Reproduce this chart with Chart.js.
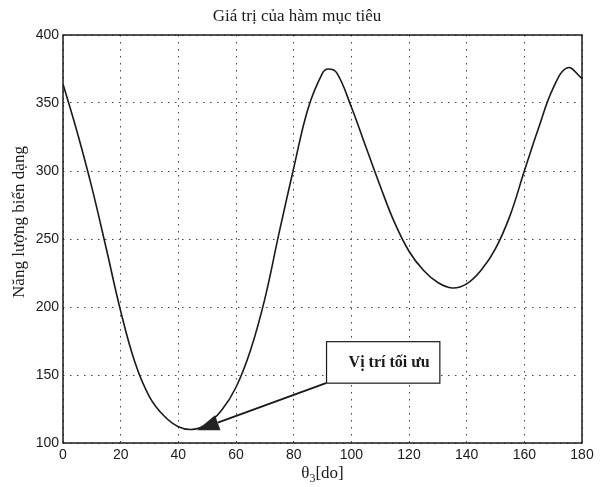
<!DOCTYPE html>
<html>
<head>
<meta charset="utf-8">
<script src="https://cdn.jsdelivr.net/npm/chart.js@4.4.1/dist/chart.umd.min.js"></script>
<style>
  html, body { margin: 0; padding: 0; background: #ffffff; }
  #wrap { width: 604px; height: 487px; position: relative; }
</style>
</head>
<body>
<div id="wrap"><canvas id="c" width="604" height="487"></canvas></div>
<script>
// ---- data ----
const thetas = [0,5,10,15,20,25,30,35,40,45,50,55,60,65,70,75,80,85,90,92,95,100,105,110,115,120,125,130,135,140,145,150,155,160,165,170,175,180];
const energy = [364,328,288,243,197,159,134,120,112,110,114,124,141,168,206,255,302,346,372,375,372,347,318,289,262,241,227,218,214,217,227,243,267,300,332,361,376,368];
const xTicks = [0,20,40,60,80,100,120,140,160,180];
const yTicks = [100,150,200,250,300,350,400];

const titleText = 'Giá trị của hàm mục tiêu';
const yLabelText = 'Năng lượng biến dạng';
const xLabelMain = 'θ';
const xLabelSub = '3';
const xLabelTail = '[do]';
const noteText = 'Vị trí tối ưu';
// annotation anchor points in data units (theta, energy)
const noteBoxTopLeft = [91.4, 174.5];
const noteBoxBottomRight = [130.7, 144];
const arrowTail = [91.2, 144];
const arrowTip = [46.5, 109.4];

const INK = '#1a1a1a';

const textPlugin = {
  id: 'textPlugin',
  afterDraw(chart) {
    const ctx = chart.ctx;
    const a = chart.chartArea;
    const xs = chart.scales.x, ys = chart.scales.y;
    ctx.save();
    // frame
    ctx.strokeStyle = INK;
    ctx.lineWidth = 1.5;
    ctx.strokeRect(a.left, a.top, a.right - a.left, a.bottom - a.top);

    // title
    ctx.fillStyle = INK;
    ctx.font = '17px "Liberation Serif", "DejaVu Serif", serif';
    ctx.textAlign = 'center';
    ctx.textBaseline = 'middle';
    ctx.fillText(titleText, 297, 17);

    // y label
    ctx.save();
    ctx.translate(20, 222);
    ctx.rotate(-Math.PI / 2);
    ctx.font = '17px "Liberation Serif", "DejaVu Serif", serif';
    ctx.textAlign = 'center';
    ctx.textBaseline = 'middle';
    ctx.fillText(yLabelText, 0, 0);
    ctx.restore();

    // x label with subscript
    const f1 = '17px "Liberation Serif", "DejaVu Serif", serif';
    const f2 = '12px "Liberation Serif", "DejaVu Serif", serif';
    ctx.font = f1; const w1 = ctx.measureText(xLabelMain).width;
    ctx.font = f2; const w2 = ctx.measureText(xLabelSub).width;
    ctx.font = f1; const w3 = ctx.measureText(xLabelTail).width;
    let sx = (a.left + a.right) / 2 - (w1 + w2 + w3) / 2;
    const by = 478;
    ctx.textAlign = 'left';
    ctx.textBaseline = 'alphabetic';
    ctx.font = f1; ctx.fillText(xLabelMain, sx, by); sx += w1;
    ctx.font = f2; ctx.fillText(xLabelSub, sx, by + 4); sx += w2;
    ctx.font = f1; ctx.fillText(xLabelTail, sx, by);

    // annotation box
    const bx1 = xs.getPixelForValue(noteBoxTopLeft[0]);
    const by1 = ys.getPixelForValue(noteBoxTopLeft[1]);
    const bx2 = xs.getPixelForValue(noteBoxBottomRight[0]);
    const by2 = ys.getPixelForValue(noteBoxBottomRight[1]);
    ctx.fillStyle = '#ffffff';
    ctx.fillRect(bx1, by1, bx2 - bx1, by2 - by1);
    ctx.strokeStyle = INK;
    ctx.lineWidth = 1.2;
    ctx.strokeRect(bx1, by1, bx2 - bx1, by2 - by1);
    ctx.fillStyle = INK;
    ctx.font = 'bold 16px "Liberation Serif", "DejaVu Serif", serif';
    ctx.textAlign = 'center';
    ctx.textBaseline = 'middle';
    ctx.fillText(noteText, (bx1 + bx2) / 2 + 6, (by1 + by2) / 2);

    // arrow
    const tx = xs.getPixelForValue(arrowTail[0]), ty = ys.getPixelForValue(arrowTail[1]);
    const hx = xs.getPixelForValue(arrowTip[0]), hy = ys.getPixelForValue(arrowTip[1]);
    const ang = Math.atan2(hy - ty, hx - tx);
    const L = 22, W = 8;
    const baseX = hx - L * Math.cos(ang), baseY = hy - L * Math.sin(ang);
    ctx.strokeStyle = INK;
    ctx.lineWidth = 2;
    ctx.beginPath();
    ctx.moveTo(tx, ty);
    ctx.lineTo(baseX, baseY);
    ctx.stroke();
    ctx.beginPath();
    ctx.moveTo(hx, hy);
    ctx.lineTo(baseX + W * Math.sin(ang), baseY - W * Math.cos(ang));
    ctx.lineTo(baseX - W * Math.sin(ang), baseY + W * Math.cos(ang));
    ctx.closePath();
    ctx.fillStyle = '#222';
    ctx.fill();
    ctx.restore();
  }
};

const points = thetas.map((t, i) => ({ x: t, y: energy[i] }));

new Chart(document.getElementById('c'), {
  type: 'line',
  data: {
    datasets: [{
      data: points,
      borderColor: INK,
      borderWidth: 1.6,
      pointRadius: 0,
      fill: false,
      tension: 0.4
    }]
  },
  options: {
    responsive: false,
    animation: false,
    devicePixelRatio: 1,
    layout: { padding: { left: 0, right: 22, top: 35, bottom: 0 } },
    plugins: { legend: { display: false }, title: { display: false }, tooltip: { enabled: false } },
    scales: {
      x: {
        type: 'linear',
        min: 0, max: 180,
        afterBuildTicks(scale) { scale.ticks = xTicks.map(v => ({ value: v })); },
        afterFit(scale) { scale.height = 44; },
        ticks: {
          color: INK,
          padding: 4,
          maxRotation: 0,
          autoSkip: false,
          font: { family: '"Liberation Sans", Arial, sans-serif', size: 14 }
        },
        grid: { color: '#444', lineWidth: 1, drawTicks: false },
        border: { display: false, dash: [1.5, 5.5] }
      },
      y: {
        type: 'linear',
        min: 100, max: 400,
        afterBuildTicks(scale) { scale.ticks = yTicks.map(v => ({ value: v })); },
        afterFit(scale) { scale.width = 63; },
        ticks: {
          color: INK,
          padding: 4,
          autoSkip: false,
          font: { family: '"Liberation Sans", Arial, sans-serif', size: 14 }
        },
        grid: { color: '#444', lineWidth: 1, drawTicks: false },
        border: { display: false, dash: [1.5, 5.5] }
      }
    }
  },
  plugins: [textPlugin]
});
</script>
</body>
</html>
